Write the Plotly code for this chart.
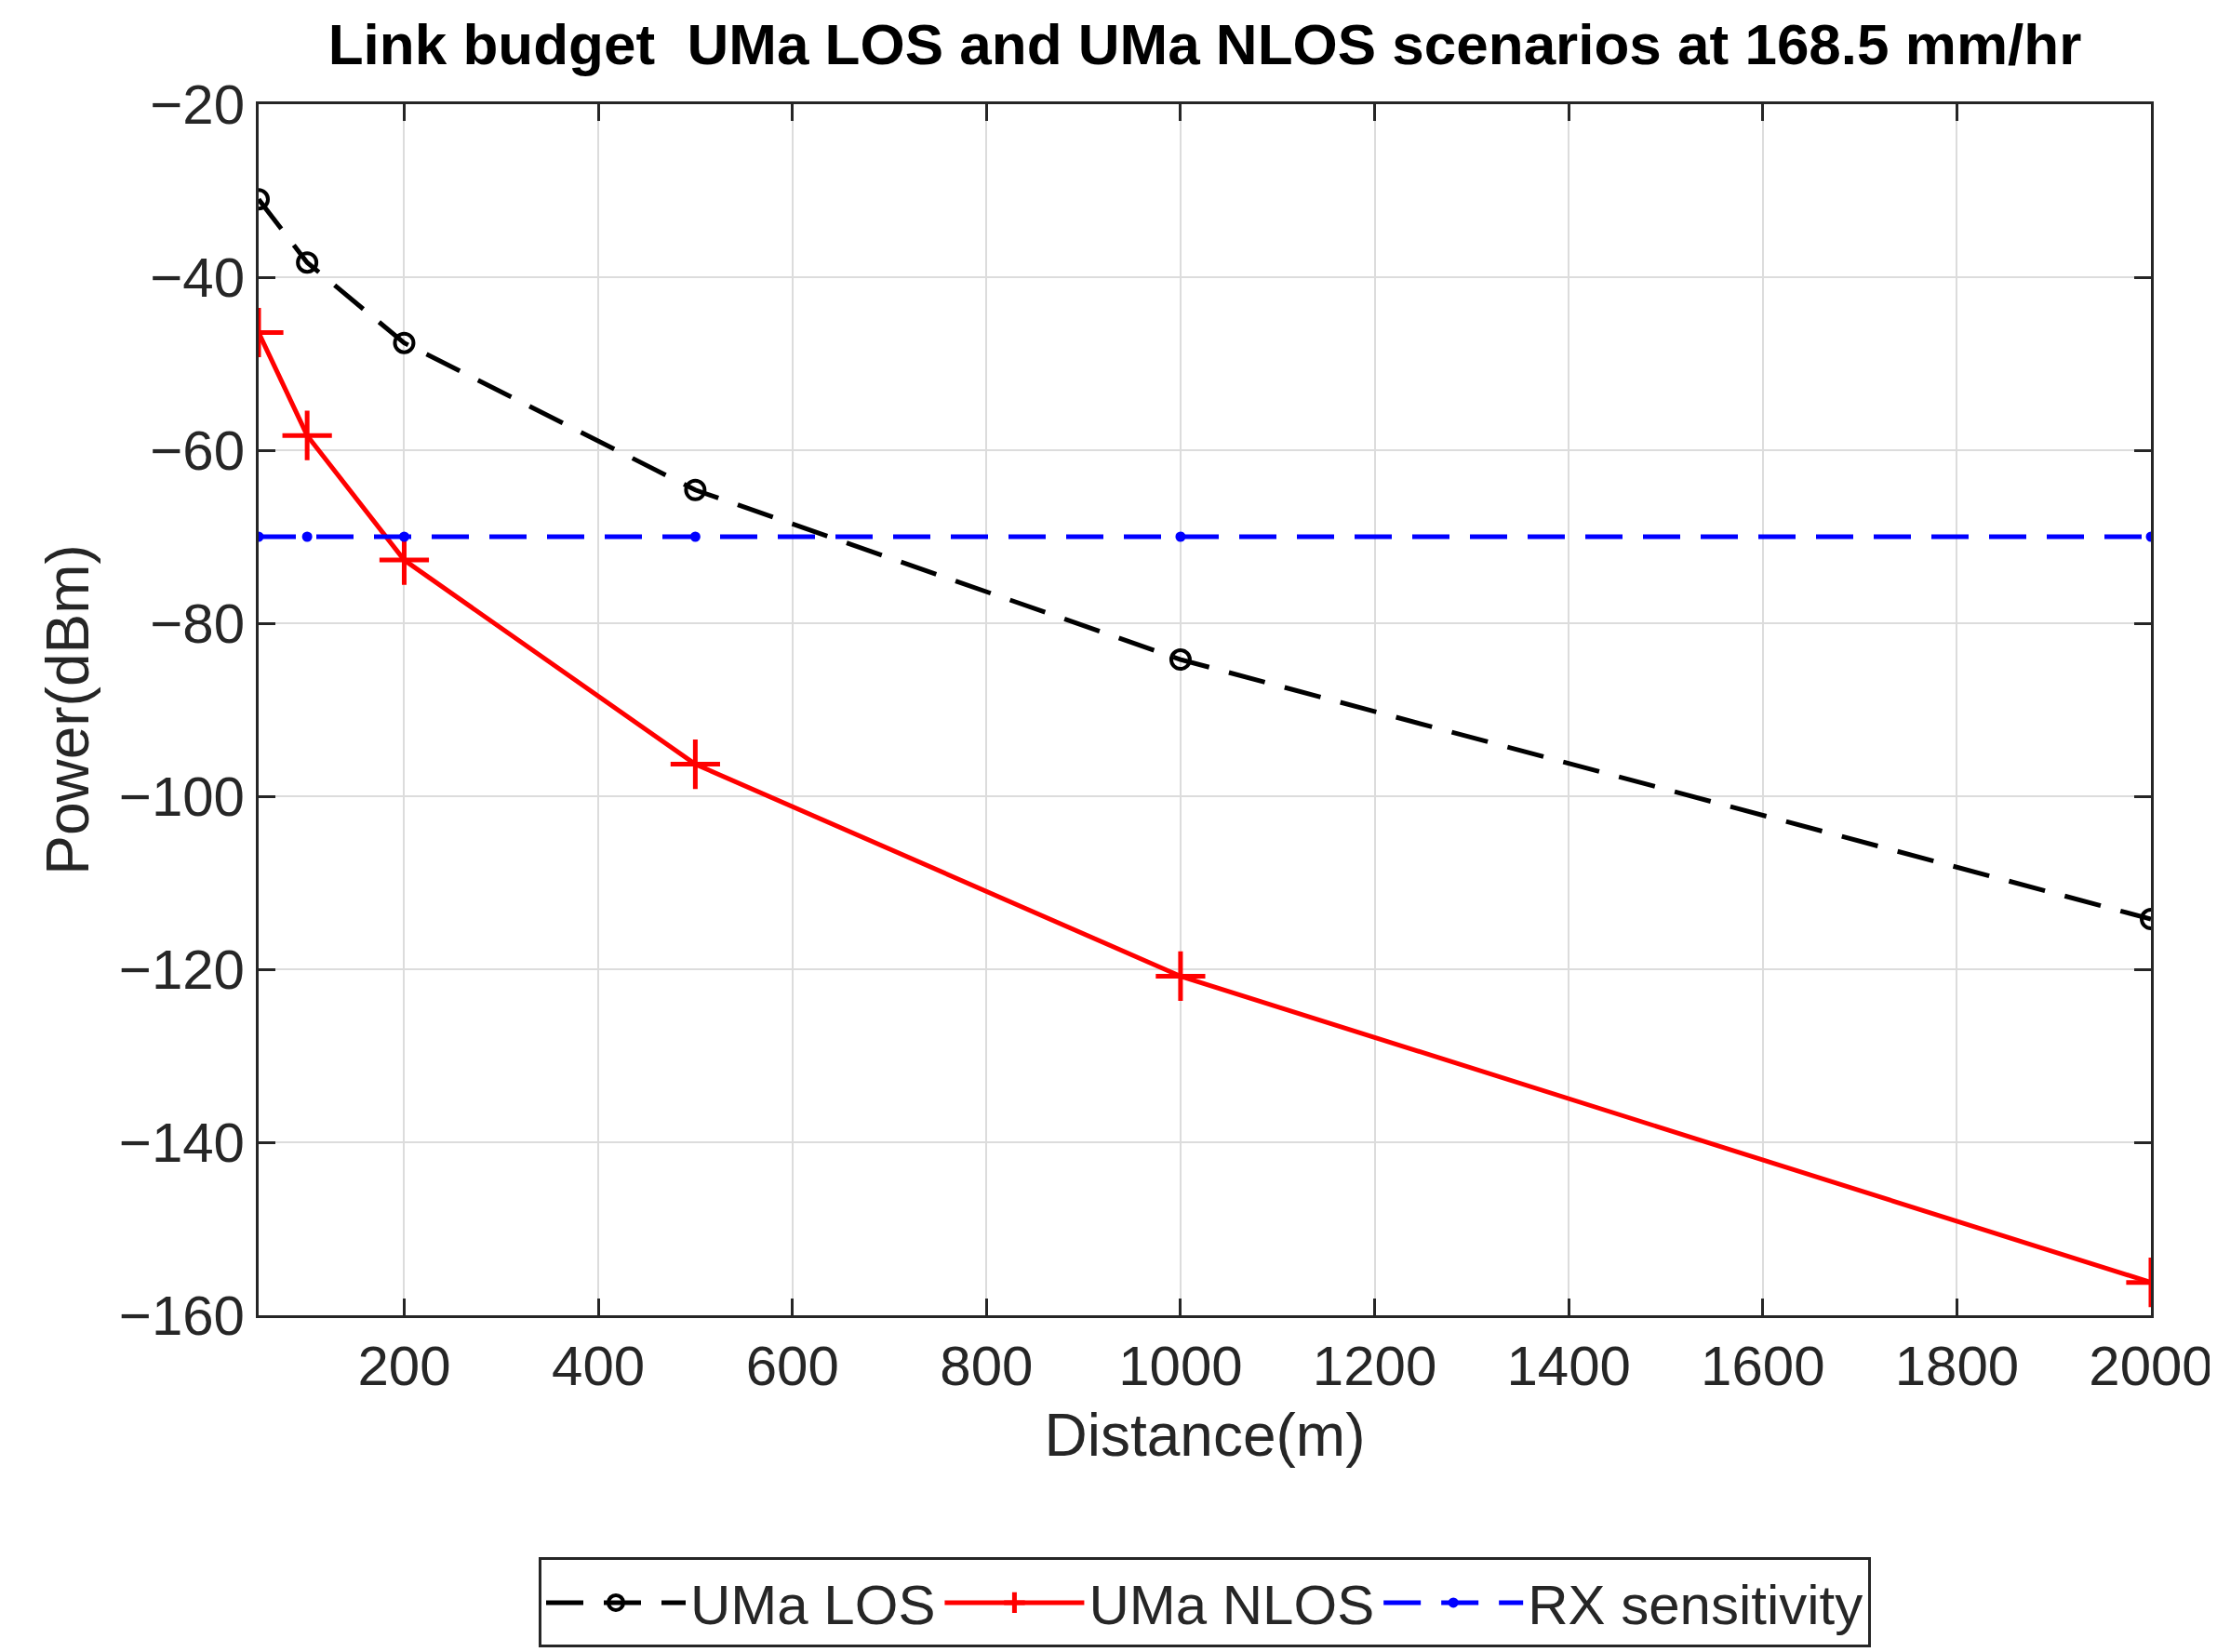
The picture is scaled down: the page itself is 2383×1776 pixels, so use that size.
import plotly.graph_objects as go

distance = [50, 100, 200, 500, 1000, 2000]
uma_los = [-31.0, -38.3, -47.6, -64.6, -84.2, -114.2]
uma_nlos = [-46.4, -58.3, -72.7, -96.3, -120.8, -156.2]
rx_sens = [-70, -70, -70, -70, -70, -70]

x_ticks = [200, 400, 600, 800, 1000, 1200, 1400, 1600, 1800, 2000]
y_ticks = [-160, -140, -120, -100, -80, -60, -40, -20]

font = "Liberation Sans, Arial, sans-serif"
dash = "40px,22px"

fig = go.Figure()
fig.add_trace(go.Scatter(x=distance, y=uma_los, mode='lines+markers', name='UMa LOS',
                         line=dict(color='black', width=5, dash=dash),
                         marker=dict(symbol='circle-open', size=20, color='black',
                                     line=dict(width=4))))
fig.add_trace(go.Scatter(x=distance, y=uma_nlos, mode='lines+markers', name='UMa NLOS',
                         line=dict(color='#ff0000', width=5),
                         marker=dict(symbol='cross-thin-open', size=38, color='#ff0000',
                                     line=dict(width=5, color='#ff0000'))))
fig.add_trace(go.Scatter(x=distance, y=rx_sens, mode='lines+markers', name='RX sensitivity',
                         line=dict(color='#0000ff', width=5, dash=dash),
                         marker=dict(symbol='circle', size=11, color='#0000ff')))

axis_common = dict(showgrid=True, gridcolor='#dcdcdc', gridwidth=2, showline=True,
                   linecolor='#262626', linewidth=3, mirror='ticks', ticks='inside',
                   ticklen=18, tickwidth=3, tickcolor='#262626', zeroline=False,
                   tickfont=dict(size=60, color='#262626', family=font))

fig.update_xaxes(range=[50, 2000], tickvals=x_ticks,
                 title=dict(text='Distance(m)', font=dict(size=64, color='#262626', family=font),
                            standoff=20),
                 **axis_common)
fig.update_yaxes(range=[-160, -20], tickvals=y_ticks, tickformat='d',
                 title=dict(text='Power(dBm)', font=dict(size=64, color='#262626', family=font),
                            standoff=12),
                 **axis_common)

fig.update_layout(
    width=2383, height=1776,
    plot_bgcolor='white', paper_bgcolor='white',
    margin=dict(l=270, r=69, t=104, b=360),
    title=dict(text='<b>Link budget  UMa LOS and UMa NLOS scenarios at 168.5 mm/hr</b>',
               x=0.5, xanchor='center', xref='paper', y=0.99, yanchor='top',
               font=dict(size=62, color='black', family=font)),
    legend=dict(orientation='h', x=0.5, xanchor='center', y=-0.2, yanchor='top',
                bordercolor='#262626', borderwidth=3, bgcolor='white',
                font=dict(size=60, color='#262626', family=font), itemwidth=150),
    separators='.\u2212',
)

fig.write_html("out.html")
